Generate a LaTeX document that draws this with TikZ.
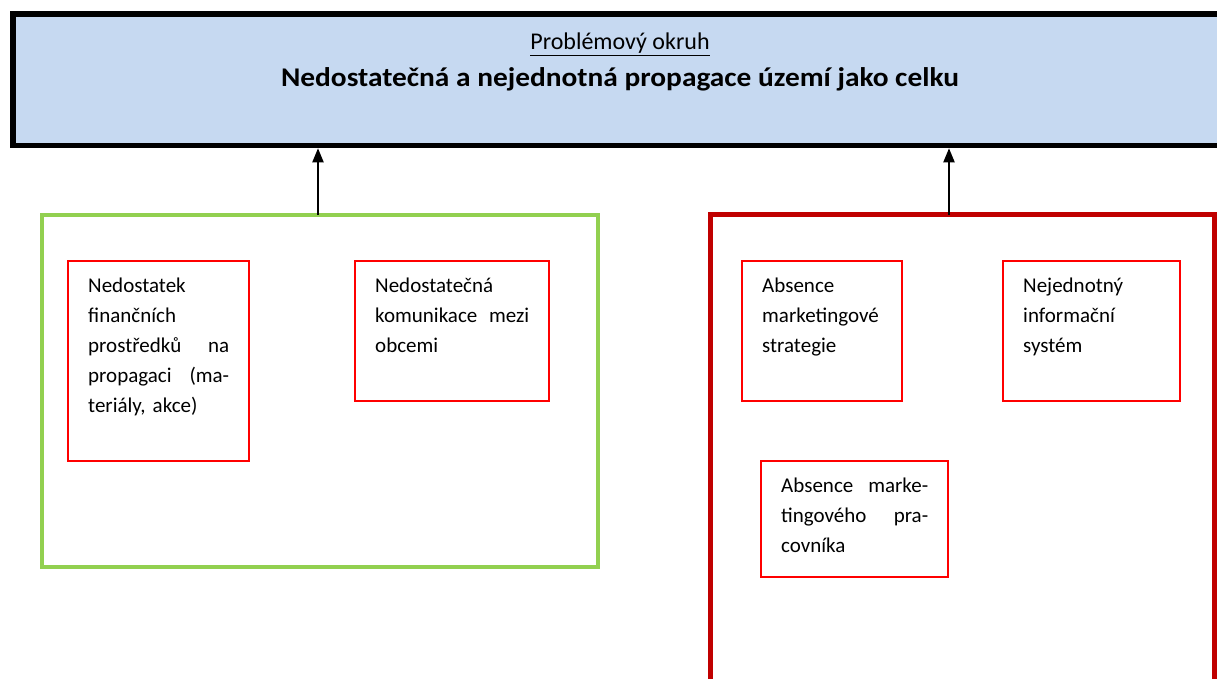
\documentclass[tikz,border=0pt]{standalone}
\usepackage{fontspec}
\setmainfont{Carlito}
\usetikzlibrary{arrows.meta}
\definecolor{topfill}{HTML}{C6D9F1}
\definecolor{grn}{HTML}{92D050}
\definecolor{dkred}{HTML}{C00000}
\definecolor{brred}{HTML}{FF0000}
\tikzset{
  smallbox/.style={rectangle, draw=brred, line width=1.3pt, inner sep=0pt, outer sep=0pt},
  boxtext/.style={anchor=north west, inner sep=0pt, align=left, font=\fontsize{21}{30}\selectfont},
  arr/.style={line width=2pt, -{Triangle[length=14pt,width=11pt]}}
}
\newcommand{\fl}{\rule{0pt}{18pt}}
\begin{document}
\begin{tikzpicture}[x=1pt,y=-1pt]
\useasboundingbox (0,0) rectangle (1217,678);
\clip (0,0) rectangle (1217,678);
% top box
\node[rectangle, draw=black, fill=topfill, line width=5.5pt, minimum width=1217pt, minimum height=131.5pt] (top) at (621.5,79.75) {};
\node[anchor=base, inner sep=0pt, font=\fontsize{24}{28}\selectfont] (sub) at (620,49.5) {\underline{Problémový okruh}};
\node[anchor=base, inner sep=0pt, font=\fontsize{27}{32}\selectfont\bfseries] (title) at (620,86.8) {\scalebox{1.088}[1]{Nedostatečná a nejednotná propagace území jako celku}};
% group boxes
\node[rectangle, draw=grn, line width=4.5pt, minimum width=556pt, minimum height=352pt] (green) at (320,391) {};
\node[rectangle, draw=dkred, line width=5pt, minimum width=504.5pt, minimum height=505.5pt] (red) at (962.25,467.25) {};
% small boxes
\node[smallbox, minimum width=181pt, minimum height=200pt] (b1) at (158.5,361) {};
\node[smallbox, minimum width=194pt, minimum height=140pt] (b2) at (452,331) {};
\node[smallbox, minimum width=160pt, minimum height=140pt] (b3) at (822,331) {};
\node[smallbox, minimum width=177pt, minimum height=140pt] (b4) at (1091.5,331) {};
\node[smallbox, minimum width=187pt, minimum height=116pt] (b5) at (854.5,519) {};
% texts
\node[boxtext, text width=141pt] (t1) at ([shift={(20,13)}]b1.north west) {\fl Nedostatek\\finančních\\prostředků\hfill na\\propagaci\hfill (ma-\\teriály, akce)};
\node[boxtext, text width=154pt] (t2) at ([shift={(20,13)}]b2.north west) {\fl Nedostatečná\\komunikace\hfill mezi\\obcemi};
\node[boxtext, text width=120pt] (t3) at ([shift={(20,13)}]b3.north west) {\fl Absence\\marketingové\\strategie};
\node[boxtext, text width=137pt] (t4) at ([shift={(20,13)}]b4.north west) {\fl Nejednotný\\informační\\systém};
\node[boxtext, text width=147pt] (t5) at ([shift={(20,13)}]b5.north west) {\fl Absence\hfill marke-\\tingového\hfill pra-\\covníka};
% arrows
\coordinate (g1) at (318,215);
\coordinate (r1) at (949,215);
\draw[arr] (g1) -- (g1 |- top.south);
\draw[arr] (r1) -- (r1 |- top.south);
\end{tikzpicture}
\end{document}
